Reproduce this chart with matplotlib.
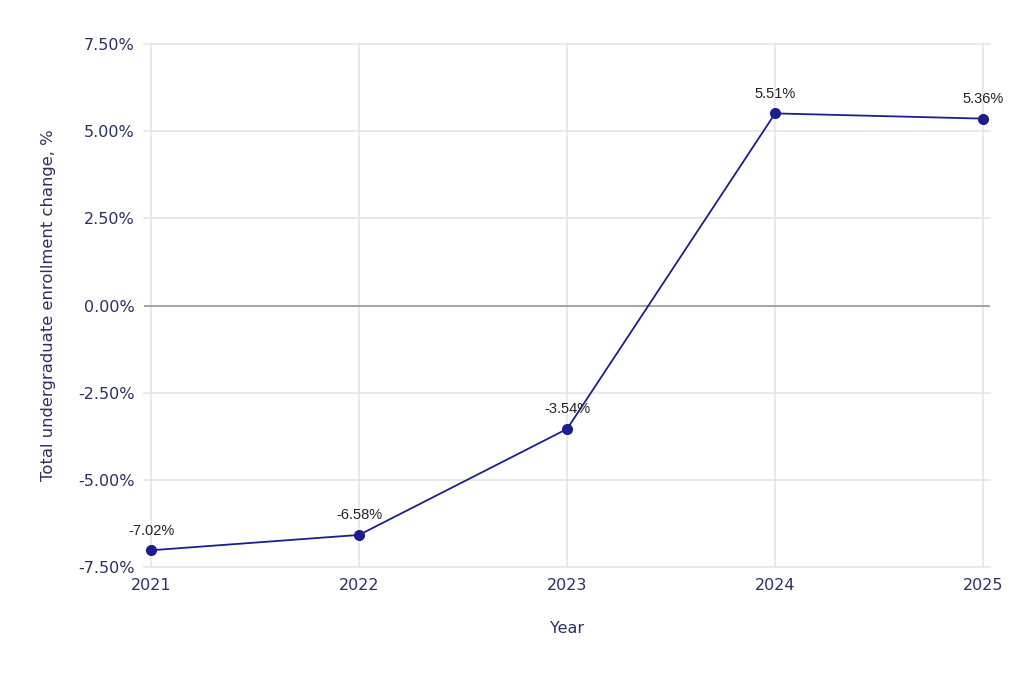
import matplotlib
matplotlib.use('Agg')
import matplotlib.pyplot as plt
from matplotlib.ticker import FuncFormatter

years = [2021, 2022, 2023, 2024, 2025]
change_pct = [-7.02, -6.58, -3.54, 5.51, 5.36]
y_ticks = [-7.5, -5.0, -2.5, 0.0, 2.5, 5.0, 7.5]

line_color = '#1a1f8c'
text_color = '#2a3060'
grid_color = '#e3e3e3'

fig = plt.figure(figsize=(10.24, 6.73), dpi=100)
ax = fig.add_axes([0.1406, 0.1575, 0.967 - 0.1406, 0.9346 - 0.1575])

# grid
for y in y_ticks:
    if y == 0:
        continue
    ax.axhline(y, color=grid_color, lw=1.1, zorder=0, clip_on=False)
for x in years:
    ax.axvline(x, color=grid_color, lw=1.1, zorder=0, clip_on=False)
ax.axhline(0, color='#8a8a8a', lw=1.1, zorder=1)

ax.plot(years, change_pct, color=line_color, lw=1.3, marker='o', ms=7, zorder=3)

for x, v in zip(years, change_pct):
    ax.annotate(f'{v:.2f}%', (x, v), xytext=(0, 14), textcoords='offset points',
                ha='center', va='center', fontsize=10.5, family='Liberation Sans',
                color='#222222')

pad = 0.034
ax.set_xlim(years[0] - pad, years[-1] + pad)
ax.set_ylim(-7.5, 7.5)
ax.set_xticks(years)
ax.set_yticks(y_ticks)
ax.yaxis.set_major_formatter(FuncFormatter(lambda v, p: f'{v:.2f}%'))
ax.tick_params(axis='both', length=0, labelsize=11.5, labelcolor=text_color)
ax.tick_params(axis='y', pad=7)
ax.tick_params(axis='x', pad=8)
for s in ax.spines.values():
    s.set_visible(False)

ax.set_xlabel('Year', fontsize=11.5, color=text_color, labelpad=20)
ax.set_ylabel('Total undergraduate enrollment change, %', fontsize=11.8,
              color=text_color, labelpad=16)

fig.savefig('out.png', dpi=100)
